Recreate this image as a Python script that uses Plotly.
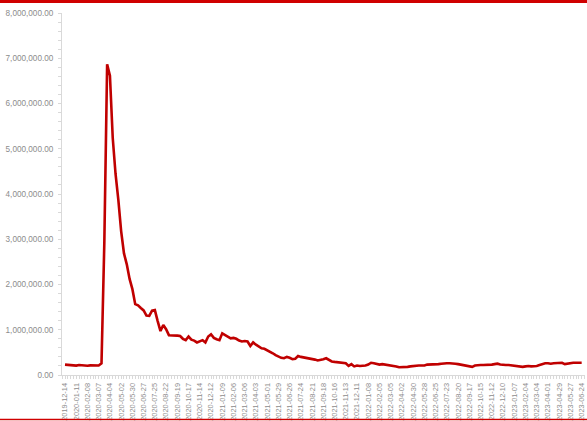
import datetime as dt
import plotly.graph_objects as go

start = dt.date(2019, 12, 14)

# weekly values (millions), week ending 2019-12-14 ... 2023-06-24
claims_m = [
    0.230, 0.222, 0.220, 0.212, 0.207, 0.221, 0.216, 0.203, 0.204, 0.213,
    0.218, 0.216, 0.211, 0.256, 2.920, 6.867, 6.615, 5.237, 4.442, 3.867,
    3.176, 2.687, 2.446, 2.123, 1.897, 1.566, 1.540, 1.482, 1.427, 1.314,
    1.307, 1.422, 1.435, 1.191, 0.971, 1.104, 1.011, 0.880, 0.880, 0.870,
    0.870, 0.860, 0.800, 0.770, 0.850, 0.780, 0.760, 0.720, 0.740, 0.770,
    0.720, 0.850, 0.900, 0.820, 0.790, 0.770, 0.920, 0.880, 0.840, 0.810,
    0.820, 0.800, 0.760, 0.740, 0.750, 0.740, 0.640, 0.720, 0.670, 0.620,
    0.590, 0.580, 0.550, 0.510, 0.480, 0.440, 0.410, 0.380, 0.370, 0.400,
    0.380, 0.350, 0.360, 0.420, 0.400, 0.390, 0.380, 0.370, 0.350, 0.340,
    0.320, 0.330, 0.350, 0.370, 0.340, 0.300, 0.290, 0.280, 0.270, 0.270,
    0.260, 0.200, 0.240, 0.190, 0.210, 0.200, 0.200, 0.210, 0.230, 0.270,
    0.260, 0.240, 0.230, 0.240, 0.230, 0.220, 0.220, 0.210, 0.190, 0.170,
    0.170, 0.170, 0.180, 0.190, 0.200, 0.200, 0.210, 0.210, 0.210, 0.230,
    0.230, 0.230, 0.230, 0.240, 0.250, 0.260, 0.260, 0.260, 0.260, 0.250,
    0.240, 0.230, 0.220, 0.210, 0.200, 0.180, 0.210, 0.220, 0.220, 0.220,
    0.220, 0.230, 0.230, 0.240, 0.250, 0.230, 0.220, 0.220, 0.220, 0.210,
    0.200, 0.190, 0.180, 0.180, 0.190, 0.200, 0.190, 0.190, 0.200, 0.220,
    0.240, 0.260, 0.260, 0.250, 0.260, 0.260, 0.270, 0.270, 0.240, 0.250,
    0.270, 0.270, 0.270, 0.270, 0.270,
]

dates = [(start + dt.timedelta(weeks=i)).isoformat() for i in range(len(claims_m))]
values = [v * 1_000_000 for v in claims_m]
tick_dates = dates[::4]
y_ticks = [0, 1_000_000, 2_000_000, 3_000_000, 4_000_000, 5_000_000, 6_000_000, 7_000_000, 8_000_000]

RED = "#C00000"
GREY = "#8C8C8C"
AXIS = "#D9D9D9"

W, H = 587, 421
ML, MR, MT, MB = 62, 2, 13, 46
PW, PH = W - ML - MR, H - MT - MB


def px_x(px):
    return (px - ML) / PW


def px_y(py):
    return (H - MB - py) / PH


x_start = (dt.datetime.fromisoformat(dates[0]) - dt.timedelta(days=7.5)).isoformat()
x_end = (dt.datetime.fromisoformat(dates[-1]) + dt.timedelta(days=8.3)).isoformat()

fig = go.Figure()
fig.add_trace(go.Scatter(x=dates, y=values, mode="lines",
                         line=dict(color=RED, width=2.6), hoverinfo="skip"))

fig.update_layout(
    width=W, height=H,
    margin=dict(l=ML, r=MR, t=MT, b=MB, autoexpand=False),
    paper_bgcolor="white", plot_bgcolor="white",
    showlegend=False,
    font=dict(family="Liberation Sans", size=8, color=GREY),
    xaxis=dict(
        type="date",
        automargin=False,
        range=[x_start, x_end],
        tickvals=tick_dates, ticktext=tick_dates,
        tickangle=-90,
        ticks="outside", ticklen=3, tickcolor=AXIS,
        minor=dict(ticks="outside", ticklen=3, tickcolor=AXIS,
                   dtick=7 * 86400000, tick0=dates[0], showgrid=False),
        showline=True, linecolor=AXIS, linewidth=1,
        showgrid=False, zeroline=False,
        tickfont=dict(size=7.4, color=GREY),
        ticklabelstandoff=1,
        ticklabeloverflow="allow",
    ),
    yaxis=dict(
        automargin=False,
        range=[0, 8_000_000],
        tickvals=y_ticks, tickformat=",.2f",
        ticks="outside", ticklen=3, tickcolor=AXIS,
        minor=dict(ticks="outside", ticklen=3, tickcolor=AXIS,
                   dtick=200_000, showgrid=False),
        showline=True, linecolor=AXIS, linewidth=1,
        showgrid=False, zeroline=False,
        tickfont=dict(size=8.2, color=GREY),
        ticklabelstandoff=3,
    ),
    shapes=[
        dict(type="rect", xref="paper", yref="paper",
             x0=px_x(0), x1=px_x(W), y0=px_y(3), y1=px_y(0),
             fillcolor="#D00000", line=dict(width=0), layer="above"),
        dict(type="line", xref="paper", yref="paper",
             x0=px_x(0), x1=px_x(W), y0=px_y(419.5), y1=px_y(419.5),
             line=dict(color="#D00000", width=1.5), layer="above"),
    ],
)

fig.write_html("out.html", config={"displayModeBar": False},
               post_script="document.body.style.margin='0';")
